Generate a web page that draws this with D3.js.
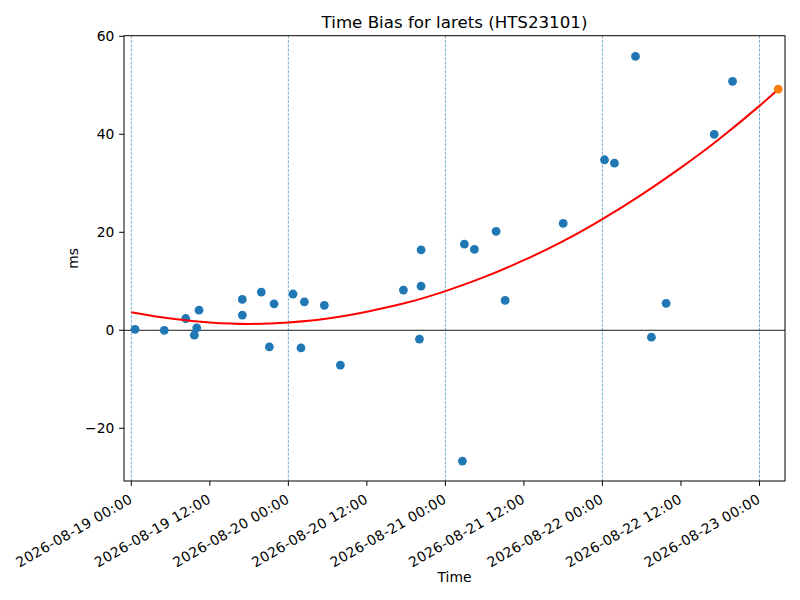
<!DOCTYPE html>
<html>
<head>
<meta charset="utf-8">
<script src="https://cdn.jsdelivr.net/npm/d3@7"></script>
<style>
  body { margin: 0; background: #fff; }
  svg text { font-family: "DejaVu Sans", sans-serif; fill: #000; }
</style>
</head>
<body>
<svg id="chart"></svg>
<script>
// observed time bias samples (ms)
var obsTimes = [
  "2026-08-19 00:34", "2026-08-19 05:02", "2026-08-19 08:19", "2026-08-19 10:00",
  "2026-08-19 09:38", "2026-08-19 10:21", "2026-08-19 16:58", "2026-08-19 16:58",
  "2026-08-19 19:52", "2026-08-19 21:49", "2026-08-19 21:06", "2026-08-20 00:43",
  "2026-08-20 02:27", "2026-08-20 01:56", "2026-08-20 05:30", "2026-08-20 07:57",
  "2026-08-20 17:35", "2026-08-20 20:17", "2026-08-20 20:17", "2026-08-20 20:02",
  "2026-08-21 02:54", "2026-08-21 04:26", "2026-08-21 07:45", "2026-08-21 09:08",
  "2026-08-21 02:36", "2026-08-21 18:00", "2026-08-22 00:19", "2026-08-22 01:50",
  "2026-08-22 05:03", "2026-08-22 09:44", "2026-08-22 07:29", "2026-08-22 17:05",
  "2026-08-22 19:53"
];
var obsValues = [
  0.2, 0.0, 2.4, 0.5,
  -1.0, 4.1, 6.3, 3.1,
  7.8, 5.4, -3.4, 7.4,
  5.8, -3.6, 5.1, -7.1,
  8.2, 16.4, 9.0, -1.8,
  17.6, 16.5, 20.2, 6.1,
  -26.7, 21.8, 34.8, 34.1,
  55.9, 5.5, -1.4, 40.0,
  50.8
];

// fitted trend (red curve)
var fitTimes = [
  "2026-08-19 00:00", "2026-08-19 06:00", "2026-08-19 12:00", "2026-08-19 18:00",
  "2026-08-20 00:00", "2026-08-20 06:00", "2026-08-20 12:00", "2026-08-20 18:00",
  "2026-08-21 00:00", "2026-08-21 06:00", "2026-08-21 12:00", "2026-08-21 18:00",
  "2026-08-22 00:00", "2026-08-22 06:00", "2026-08-22 12:00", "2026-08-22 18:00",
  "2026-08-23 00:00", "2026-08-23 02:52"
];
var fitValues = [
  3.7, 2.4, 1.6, 1.3,
  1.6, 2.4, 3.8, 5.6,
  8.0, 10.9, 14.3, 18.2,
  22.7, 27.7, 33.2, 39.2,
  45.8, 49.2
];

// predicted point (orange)
var predTime = ["2026-08-23 02:52"];
var predValue = [49.2];

var dayLines = ["2026-08-19 00:00", "2026-08-20 00:00", "2026-08-21 00:00", "2026-08-22 00:00", "2026-08-23 00:00"];
var yTicks = [-20, 0, 20, 40, 60];

var W = 800, H = 600;
var margin = { top: 35.7, right: 15, bottom: 119, left: 124 };
var width = W - margin.left - margin.right;
var height = H - margin.top - margin.bottom;

var parse = d3.timeParse("%Y-%m-%d %H:%M");
var fmt = d3.timeFormat("%Y-%m-%d %H:%M");

var svg = d3.select("#chart")
  .attr("width", W)
  .attr("height", H);

var g = svg.append("g")
  .attr("transform", `translate(${margin.left}, ${margin.top})`);

var x = d3.scaleTime()
  .domain([parse("2026-08-18 22:53"), parse("2026-08-23 03:54")])
  .range([0, width]);

var y = d3.scaleLinear()
  .domain([-30.76, 60.12])
  .range([height, 0]);

// day separators
g.selectAll("line.day")
  .data(dayLines)
  .join("line")
  .attr("class", "day")
  .attr("x1", d => x(parse(d)))
  .attr("x2", d => x(parse(d)))
  .attr("y1", 0)
  .attr("y2", height)
  .attr("stroke", "#1f77b4")
  .attr("stroke-opacity", 0.75)
  .attr("stroke-width", 0.8)
  .attr("stroke-dasharray", "3,1.3");

// zero line
g.append("line")
  .attr("x1", 0)
  .attr("x2", width)
  .attr("y1", y(0))
  .attr("y2", y(0))
  .attr("stroke", "#000")
  .attr("stroke-width", 0.9);

var obs = obsTimes.map((t, i) => ({ t: parse(t), v: obsValues[i] }));

g.selectAll("circle.obs")
  .data(obs)
  .join("circle")
  .attr("class", "obs")
  .attr("cx", d => x(d.t))
  .attr("cy", d => y(d.v))
  .attr("r", 4.4)
  .attr("fill", "#1f77b4");

var fit = fitTimes.map((t, i) => ({ t: parse(t), v: fitValues[i] }));

g.append("path")
  .datum(fit)
  .attr("fill", "none")
  .attr("stroke", "red")
  .attr("stroke-width", 2)
  .attr("d", d3.line()
    .x(d => x(d.t))
    .y(d => y(d.v))
    .curve(d3.curveNatural));

g.selectAll("circle.pred")
  .data(predTime.map((t, i) => ({ t: parse(t), v: predValue[i] })))
  .join("circle")
  .attr("class", "pred")
  .attr("cx", d => x(d.t))
  .attr("cy", d => y(d.v))
  .attr("r", 4.4)
  .attr("fill", "#ff7f0e");

// frame
g.append("rect")
  .attr("width", width)
  .attr("height", height)
  .attr("fill", "none")
  .attr("stroke", "#000")
  .attr("stroke-width", 1);

// x axis
var xTicks = d3.timeHour.every(12).range(parse("2026-08-19 00:00"), parse("2026-08-23 00:01"));
var xAxis = g.append("g").attr("transform", `translate(0, ${height})`);
xAxis.selectAll("line")
  .data(xTicks)
  .join("line")
  .attr("x1", d => x(d))
  .attr("x2", d => x(d))
  .attr("y1", 0)
  .attr("y2", 4.86)
  .attr("stroke", "#000")
  .attr("stroke-width", 1);
xAxis.selectAll("text")
  .data(xTicks)
  .join("text")
  .attr("transform", d => `translate(${x(d) + 2.1}, 21) rotate(-30)`)
  .attr("text-anchor", "end")
  .style("font-size", "13.89px")
  .style("letter-spacing", "0.4px")
  .text(d => fmt(d));

// y axis
var yAxis = g.append("g");
yAxis.selectAll("line")
  .data(yTicks)
  .join("line")
  .attr("x1", -4.86)
  .attr("x2", 0)
  .attr("y1", d => y(d))
  .attr("y2", d => y(d))
  .attr("stroke", "#000");
yAxis.selectAll("text")
  .data(yTicks)
  .join("text")
  .attr("x", -9.7)
  .attr("y", d => y(d))
  .attr("dy", "0.36em")
  .attr("text-anchor", "end")
  .style("font-size", "13.89px")
  .text(d => d < 0 ? "\u2212" + Math.abs(d) : d);

// labels
svg.append("text")
  .attr("x", margin.left + width / 2)
  .attr("y", 28)
  .attr("text-anchor", "middle")
  .style("font-size", "16.67px")
  .text("Time Bias for larets (HTS23101)");

svg.append("text")
  .attr("x", margin.left + width / 2)
  .attr("y", 582)
  .attr("text-anchor", "middle")
  .style("font-size", "13.89px")
  .text("Time");

svg.append("text")
  .attr("transform", `translate(78, ${margin.top + height / 2}) rotate(-90)`)
  .attr("text-anchor", "middle")
  .style("font-size", "13.89px")
  .text("ms");
</script>
</body>
</html>
